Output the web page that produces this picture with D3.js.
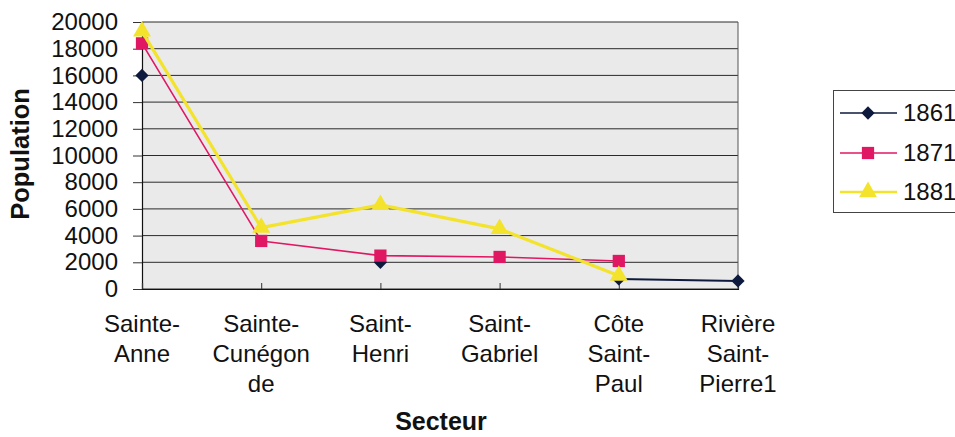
<!DOCTYPE html>
<html>
<head>
<meta charset="utf-8">
<script src="https://cdn.jsdelivr.net/npm/d3@7"></script>
<style>
  html, body { margin: 0; padding: 0; background: #fff; }
  svg { display: block; font-family: "Liberation Sans", Arial, sans-serif; }
</style>
</head>
<body>
<svg id="chart" width="955" height="437"></svg>
<script>
// Population by sector of south-west Montréal, censuses 1861, 1871, 1881
const sectors = ["Sainte-Anne", "Sainte-Cunégonde", "Saint-Henri", "Saint-Gabriel", "Côte Saint-Paul", "Rivière Saint-Pierre1"];
const sectorLabelLines = [
  ["Sainte-", "Anne"],
  ["Sainte-", "Cunégon", "de"],
  ["Saint-", "Henri"],
  ["Saint-", "Gabriel"],
  ["Côte", "Saint-", "Paul"],
  ["Rivière", "Saint-", "Pierre1"]
];
const years = ["1861", "1871", "1881"];
const pop1861 = [16000, null, 2000, null, 750, 600];
const pop1871 = [18400, 3600, 2500, 2400, 2100, null];
const pop1881 = [19300, 4600, 6300, 4500, 1000, null];
const yTicks = [0, 2000, 4000, 6000, 8000, 10000, 12000, 14000, 16000, 18000, 20000];
const yTitle = "Population";
const xTitle = "Secteur";

const seriesValues = [pop1861, pop1871, pop1881];
// diamonds are squares turned by 45 degrees
const seriesStyle = [
  { color: "#0d1a3e", width: 1.8, marker: d3.symbolSquare, size: 88, rotate: 45 },
  { color: "#e01763", width: 1.6, marker: d3.symbolSquare, size: 150, rotate: 0 },
  { color: "#f3e32c", width: 3.2, marker: d3.symbolTriangle, size: 140, rotate: 0 }
];

const svg = d3.select("#chart");
const plot = { left: 142, right: 738, top: 22, bottom: 289 };

const x = d3.scalePoint().domain(sectors).range([plot.left, plot.right]);
const y = d3.scaleLinear().domain([0, 20000]).range([plot.bottom, plot.top]);

// plot area background
svg.append("rect")
  .attr("x", plot.left).attr("y", plot.top)
  .attr("width", plot.right - plot.left).attr("height", plot.bottom - plot.top)
  .attr("fill", "#eaeaea");

// horizontal gridlines
svg.append("g").selectAll("line")
  .data(yTicks)
  .join("line")
  .attr("x1", plot.left).attr("x2", plot.right)
  .attr("y1", d => y(d)).attr("y2", d => y(d))
  .attr("stroke", "#2a2a2a").attr("stroke-width", 1);

// right border of plot area
svg.append("line")
  .attr("x1", plot.right).attr("x2", plot.right)
  .attr("y1", plot.top).attr("y2", plot.bottom)
  .attr("stroke", "#555").attr("stroke-width", 1);

// y axis
const yAxis = svg.append("g")
  .attr("transform", `translate(${plot.left},0)`)
  .call(d3.axisLeft(y).tickValues(yTicks).tickSize(9).tickPadding(15).tickFormat(d3.format("d")));
yAxis.select(".domain").attr("stroke", "#111").attr("stroke-width", 1.2);
yAxis.selectAll(".tick line").attr("stroke", "#333");
yAxis.selectAll(".tick text")
  .attr("font-size", 24).attr("fill", "#111")
  .attr("font-family", "'Liberation Sans', Arial, sans-serif");

// x axis
const xAxis = svg.append("g")
  .attr("transform", `translate(0,${plot.bottom})`)
  .call(d3.axisBottom(x).tickSize(-6).tickFormat(""));
xAxis.select(".domain").attr("stroke", "#111").attr("stroke-width", 1.2);
xAxis.selectAll(".tick line").attr("stroke", "#333");

// wrapped category labels
const catLabels = svg.append("g")
  .attr("font-size", 24).attr("fill", "#111").attr("text-anchor", "middle");
sectors.forEach((s, i) => {
  const t = catLabels.append("text")
    .attr("x", x(s)).attr("y", 332);
  sectorLabelLines[i].forEach((line, j) => {
    t.append("tspan").attr("x", x(s)).attr("dy", j === 0 ? 0 : 30).text(line);
  });
});

// axis titles
svg.append("text")
  .attr("transform", "translate(29,154) rotate(-90)")
  .attr("text-anchor", "middle")
  .attr("font-size", 25.5).attr("font-weight", "bold").attr("fill", "#111")
  .text(yTitle);
svg.append("text")
  .attr("x", 441).attr("y", 430)
  .attr("text-anchor", "middle")
  .attr("font-size", 25).attr("font-weight", "bold").attr("fill", "#111")
  .text(xTitle);

// series lines and markers
const line = d3.line()
  .defined(d => d.v !== null)
  .x(d => x(d.s))
  .y(d => y(d.v));

years.forEach((yr, k) => {
  const st = seriesStyle[k];
  const pts = seriesValues[k].map((v, i) => ({ s: sectors[i], v }));
  const g = svg.append("g");
  g.append("path")
    .datum(pts)
    .attr("d", line)
    .attr("fill", "none")
    .attr("stroke", st.color)
    .attr("stroke-width", st.width)
    .attr("stroke-linejoin", "round");
  g.selectAll("path.m")
    .data(pts.filter(d => d.v !== null))
    .join("path")
    .attr("class", "m")
    .attr("transform", d => `translate(${x(d.s)},${y(d.v)}) rotate(${st.rotate})`)
    .attr("d", d3.symbol(st.marker, st.size))
    .attr("fill", st.color);
});

// legend
const legend = svg.append("g");
legend.append("rect")
  .attr("x", 833.5).attr("y", 90.5)
  .attr("width", 140).attr("height", 122)
  .attr("fill", "#fff").attr("stroke", "#444").attr("stroke-width", 1);
const legendY = [113, 153, 192];
years.forEach((yr, k) => {
  const st = seriesStyle[k];
  const ly = legendY[k];
  legend.append("line")
    .attr("x1", 840).attr("x2", 897)
    .attr("y1", ly).attr("y2", ly)
    .attr("stroke", st.color).attr("stroke-width", k === 2 ? 2.4 : 1.5);
  legend.append("path")
    .attr("transform", `translate(868,${ly}) rotate(${st.rotate})`)
    .attr("d", d3.symbol(st.marker, st.size))
    .attr("fill", st.color);
  legend.append("text")
    .attr("x", 903).attr("y", ly).attr("dy", "0.35em")
    .attr("font-size", 24).attr("fill", "#111")
    .text(yr);
});
</script>
</body>
</html>
